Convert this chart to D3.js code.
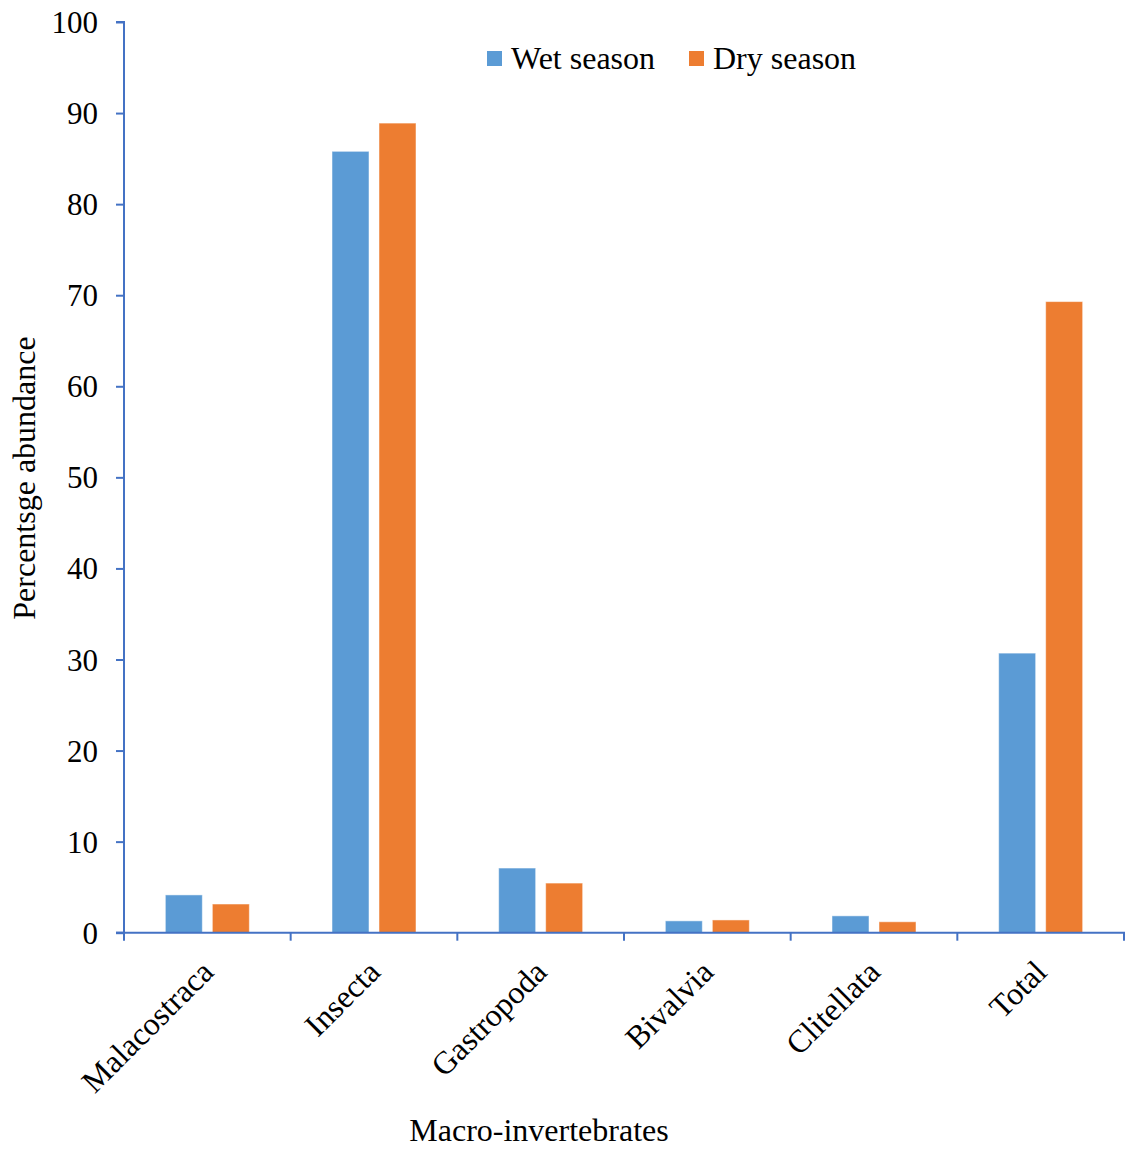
<!DOCTYPE html>
<html>
<head>
<meta charset="utf-8">
<script src="https://cdn.jsdelivr.net/npm/d3@7"></script>
<style>
  html, body { margin: 0; padding: 0; background: #fff; }
  text { font-family: "Liberation Serif", "Times New Roman", serif; fill: #000; }
</style>
</head>
<body>
<svg id="chart" width="1131" height="1151"></svg>
<script>
const categories = ["Malacostraca", "Insecta", "Gastropoda", "Bivalvia", "Clitellata", "Total"];
const wetSeason = [4.15, 85.8, 7.1, 1.3, 1.85, 30.7];
const drySeason = [3.15, 88.9, 5.45, 1.4, 1.2, 69.3];
const seriesNames = ["Wet season", "Dry season"];
const seriesColors = ["#5B9BD5", "#ED7D31"];
const yTicks = [0, 10, 20, 30, 40, 50, 60, 70, 80, 90, 100];

const svg = d3.select("#chart");
const mLeft = 124, mRight = 1124, mTop = 22, mBottom = 932.7;
const axisColor = "#4472C4";

const x = d3.scaleBand().domain(categories).range([mLeft, mRight]).paddingInner(0).paddingOuter(0);
const y = d3.scaleLinear().domain([0, 100]).range([mBottom, mTop]);
const bw = x.bandwidth();
const barW = bw * 0.222;
const gap = bw * 0.06;

const data = [wetSeason, drySeason];

// bars
seriesNames.forEach((s, si) => {
  svg.append("g").selectAll("rect").data(categories).join("rect")
    .attr("x", (c) => x(c) + (bw - 2 * barW - gap) / 2 + si * (barW + gap))
    .attr("y", (c, i) => y(data[si][i]))
    .attr("width", barW)
    .attr("height", (c, i) => mBottom - y(data[si][i]))
    .attr("fill", seriesColors[si])
    .attr("stroke", "#fff")
    .attr("stroke-opacity", 0.5)
    .attr("stroke-width", 1);
});

// y axis
const yAxis = d3.axisLeft(y).tickValues(yTicks).tickSize(8).tickPadding(18).tickFormat(d3.format("d"));
const gy = svg.append("g").attr("transform", `translate(${mLeft},0)`).call(yAxis);
gy.select(".domain").attr("stroke", axisColor).attr("stroke-width", 2).attr("d", `M-8,${mTop}H0V${mBottom}H-8`);
gy.selectAll(".tick line").attr("stroke", axisColor).attr("stroke-width", 2);
gy.selectAll(".tick text").style("font-size", "31px").style("font-family", "Liberation Serif").attr("fill", "#000").attr("dy", "0.34em");

// x axis
const xTickPos = categories.map((c) => x(c)).concat([mRight]);
const gx = svg.append("g");
gx.append("line").attr("x1", mLeft - 8).attr("x2", mRight + 1).attr("y1", mBottom).attr("y2", mBottom)
  .attr("stroke", axisColor).attr("stroke-width", 2);
gx.selectAll("line.tk").data(xTickPos).join("line").attr("class", "tk")
  .attr("x1", (d) => d).attr("x2", (d) => d).attr("y1", mBottom).attr("y2", mBottom + 8)
  .attr("stroke", axisColor).attr("stroke-width", 2);
gx.selectAll("text").data(categories).join("text")
  .attr("transform", (c) => `translate(${x(c) + bw / 2},966) rotate(-45)`)
  .attr("text-anchor", "end")
  .attr("dy", "0.35em")
  .style("font-size", "32px")
  .text((c) => c);

// axis titles
svg.append("text").attr("x", 539).attr("y", 1141).attr("text-anchor", "middle").style("font-size", "32px").text("Macro-invertebrates");
svg.append("text").attr("transform", "translate(35,478) rotate(-90)").attr("text-anchor", "middle").style("font-size", "32px").text("Percentsge abundance");

// legend
const legend = svg.append("g");
const legendX = [487, 689];
seriesNames.forEach((s, i) => {
  legend.append("rect").attr("x", legendX[i]).attr("y", 51).attr("width", 15).attr("height", 15).attr("fill", seriesColors[i]);
  legend.append("text").attr("x", legendX[i] + 24).attr("y", 69).style("font-size", "32px").text(s);
});
</script>
</body>
</html>
